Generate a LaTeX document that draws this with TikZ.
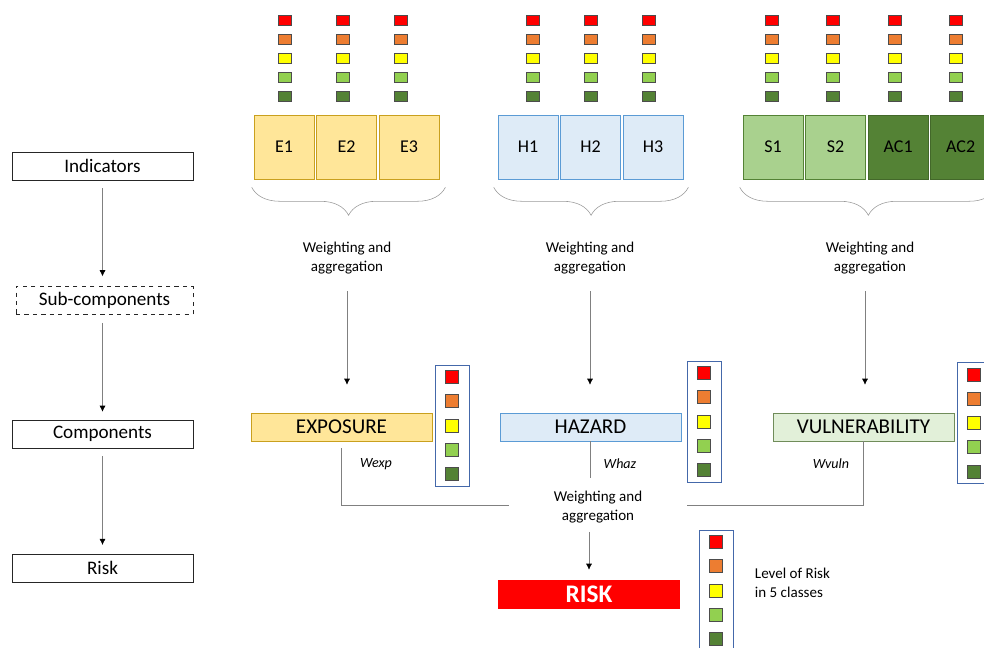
\documentclass[tikz,border=0pt]{standalone}
\usepackage{fontspec}
\setmainfont{Carlito}
\usetikzlibrary{arrows.meta,positioning,calc,decorations.pathreplacing}
\definecolor{rkred}{RGB}{255,0,0}
\definecolor{rkorange}{RGB}{237,125,49}
\definecolor{rkyellow}{RGB}{255,255,0}
\definecolor{rklgreen}{RGB}{146,208,80}
\definecolor{rkdgreen}{RGB}{84,130,53}
\definecolor{expfill}{RGB}{255,230,153}
\definecolor{expdraw}{RGB}{201,160,30}
\definecolor{hazfill}{RGB}{222,235,247}
\definecolor{hazdraw}{RGB}{91,155,213}
\definecolor{sfill}{RGB}{169,209,142}
\definecolor{vulfill}{RGB}{226,240,217}
\definecolor{vuldraw}{RGB}{112,140,90}
\definecolor{legdraw}{RGB}{68,104,170}
\definecolor{linegray}{RGB}{128,128,128}

\begin{document}
\begin{tikzpicture}[
  lvl/.style={rectangle, draw=black!85, minimum width=4.525cm, minimum height=0.7cm,
    inner sep=0pt, font=\fontsize{13.6}{16}\selectfont},
  ind/.style={rectangle, minimum width=1.5cm, minimum height=1.6cm, inner sep=0pt,
    font=\fontsize{12.8}{15}\selectfont},
  comp/.style={rectangle, minimum width=4.525cm, minimum height=0.7cm, inner sep=0pt,
    font=\fontsize{15}{18}\selectfont},
  sq/.style={rectangle, draw=black!70, minimum width=0.325cm, minimum height=0.25cm, inner sep=0pt},
  lsq/.style={rectangle, draw=black!70, minimum size=0.325cm, inner sep=0pt},
  legend/.style={rectangle, draw=legdraw, minimum width=0.85cm, minimum height=3.025cm, inner sep=0pt},
  wgt/.style={align=center, font=\fontsize{10.7}{13.5}\selectfont},
  flow/.style={draw=linegray, -{Latex[color=black, length=0.15cm, width=0.15cm]}},
  link/.style={draw=linegray},
  brc/.style={draw=linegray!80, decorate, decoration={brace, mirror, amplitude=0.7cm}}
]
  \useasboundingbox (0,0) rectangle (24.6,-16.2);

  % Levels
  \node[lvl] (ind_l) at (2.5625,-4.15) {Indicators};
  \node[lvl, dashed, minimum width=4.425cm] (sub_l) at (2.6125,-7.5125) {Sub-components};
  \node[lvl] (comp_l) at (2.5625,-10.85) {Components};
  \node[lvl] (risk_l) at (2.5625,-14.2) {Risk};
  \draw[flow, shorten <=0.2cm, shorten >=0.25cm] (ind_l.south) -- (ind_l.south |- sub_l.north);
  \draw[flow, shorten <=0.2cm, shorten >=0.2cm] (ind_l.south |- sub_l.south) -- (comp_l.north);
  \draw[flow, shorten <=0.2cm, shorten >=0.22cm] (comp_l.south) -- (risk_l.north);

  % Indicators
  \node[ind, fill=expfill, draw=expdraw] (e1) at (7.1,-3.675) {E1};
  \node[ind, fill=expfill, draw=expdraw, right=0.05cm of e1] (e2) {E2};
  \node[ind, fill=expfill, draw=expdraw, right=0.05cm of e2] (e3) {E3};
  \node[ind, fill=hazfill, draw=hazdraw] (h1) at (13.2,-3.675) {H1};
  \node[ind, fill=hazfill, draw=hazdraw, right=0.05cm of h1] (h2) {H2};
  \node[ind, fill=hazfill, draw=hazdraw, right=0.05cm of h2] (h3) {H3};
  \node[ind, fill=sfill, draw=rkdgreen] (s1) at (19.325,-3.675) {S1};
  \node[ind, fill=sfill, draw=rkdgreen, right=0.05cm of s1] (s2) {S2};
  \node[ind, fill=rkdgreen, draw=rkdgreen!80!black, right=0.05cm of s2] (ac1) {AC1};
  \node[ind, fill=rkdgreen, draw=rkdgreen!80!black, right=0.05cm of ac1] (ac2) {AC2};

  % Classes of each indicator
  \foreach \x [count=\k] in {7.125,8.575,10.025,13.325,14.775,16.225,19.3,20.825,22.375,23.9}
    \foreach \c [count=\r] in {rkred,rkorange,rkyellow,rklgreen,rkdgreen}
      \node[sq, fill=\c] (sq\k-\r) at (\x,-0.025-0.475*\r) {};

  % Braces
  \draw[brc] ($(e1.south west)+(-0.05,-0.2)$) -- ($(e3.south east)+(0.15,-0.2)$);
  \draw[brc] ($(h1.south west)+(-0.1,-0.2)$) -- ($(h3.south east)+(0.125,-0.2)$);
  \draw[brc] ($(s1.south west)+(-0.075,-0.2)$) -- ($(ac2.south east)+(0.15,-0.2)$);

  \node[wgt] (w_e) at (8.675,-6.46) {Weighting and\\aggregation};
  \node[wgt] (w_h) at (14.75,-6.46) {Weighting and\\aggregation};
  \node[wgt] (w_v) at (21.75,-6.46) {Weighting and\\aggregation};

  % Components
  \node[comp, fill=expfill, draw=expdraw] (exp) at (8.5375,-10.675) {EXPOSURE};
  \node[comp, fill=hazfill, draw=hazdraw] (haz) at (14.7625,-10.675) {HAZARD};
  \node[comp, fill=vulfill, draw=vuldraw] (vul) at (21.5875,-10.675) {VULNERABILITY};
  \draw[flow, shorten <=0.3cm, shorten >=0.7cm] (w_e.south) -- (w_e.south |- exp.north);
  \draw[flow, shorten <=0.3cm, shorten >=0.7cm] (w_h.south) -- (w_h.south |- haz.north);
  \draw[flow, shorten <=0.3cm, shorten >=0.7cm] ($(w_v.south)+(-0.125,0)$) -- ($(w_v.south |- vul.north)+(-0.125,0)$);

  % Legends
  \node[legend] (leg_e) at (11.3,-10.6375) {};
  \node[legend] (leg_h) at (17.6,-10.5375) {};
  \node[legend] (leg_v) at (24.35,-10.575) {};
  \node[legend] (leg_r) at (17.9,-14.7625) {};
  \foreach \lg in {leg_e,leg_h,leg_v,leg_r}
    \foreach \c [count=\r] in {rkred,rkorange,rkyellow,rklgreen,rkdgreen}
      \node[lsq, fill=\c] (\lg-\r) at ($(\lg.center)+(0,1.81875-0.60625*\r)$) {};

  % Weights
  \node[font=\fontsize{10}{12}\selectfont\itshape] (wexp) at (9.4,-11.6) {Wexp};
  \node[font=\fontsize{10}{12}\selectfont\itshape] (whaz) at (15.5,-11.6) {Whaz};
  \node[font=\fontsize{10}{12}\selectfont\itshape] (wvul) at (20.775,-11.6) {Wvuln};

  % Risk
  \node[wgt] (agg) at (14.95,-12.675) {Weighting and\\aggregation};
  \draw[link, shorten <=0.175cm, shorten >=1.0cm] (exp.south) |- ([yshift=0.05cm]agg.west);
  \draw[link, shorten >=1.0cm] (vul.south) |- ([yshift=0.05cm]agg.east);
  \draw[link, shorten >=0.2cm] (haz.south) -- (haz.south |- agg.north);
  \node[rectangle, fill=rkred, minimum width=4.55cm, minimum height=0.725cm, inner sep=0pt,
    text=white, font=\fontsize{18}{20}\selectfont\bfseries] (risk) at (14.725,-14.8625) {RISK};
  \draw[flow, shorten <=0.1cm, shorten >=0.25cm] (risk.north |- agg.south) -- (risk.north);
  \node[wgt, align=left, anchor=west] (lvltxt) at (18.75,-14.575) {Level of Risk\\in 5 classes};
\end{tikzpicture}
\end{document}
